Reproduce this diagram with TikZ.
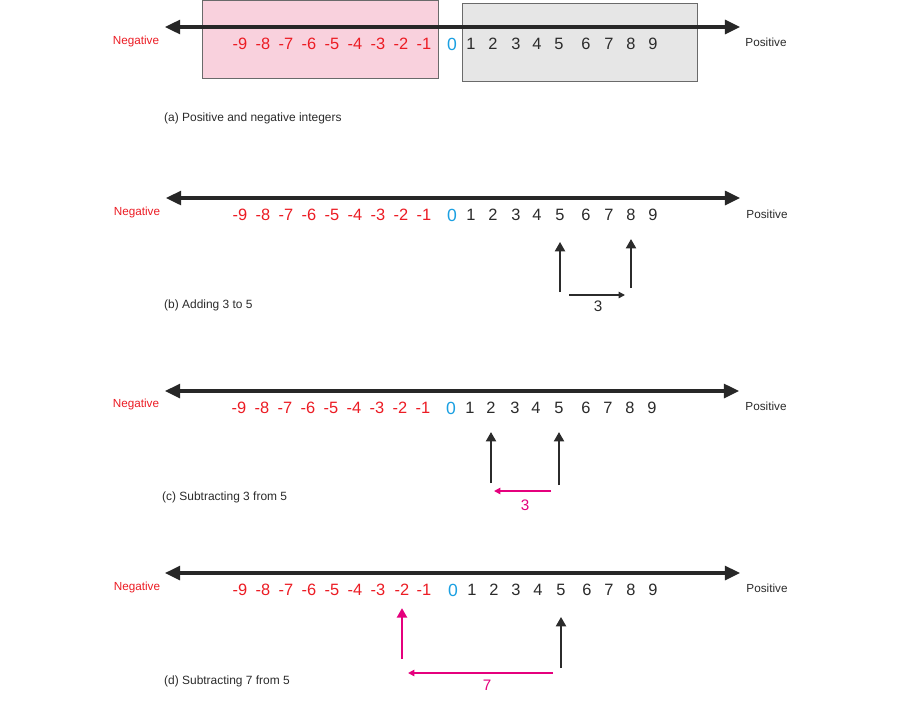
\documentclass[tikz,border=0pt]{standalone}
\usepackage{fontspec}
\setmainfont{Liberation Sans}
\usetikzlibrary{arrows.meta}
\definecolor{negRed}{HTML}{EC1C24}
\definecolor{zeroBlue}{HTML}{1BA0E2}
\definecolor{hopPink}{HTML}{E5007D}
\definecolor{digitGray}{HTML}{2B2B2B}
\definecolor{boxPink}{HTML}{F9D1DD}
\definecolor{boxGray}{HTML}{E6E6E6}
\definecolor{edgeGray}{HTML}{6A6A6A}

\begin{document}
\begin{tikzpicture}[
    x=0.03cm, y=-0.03cm,
    numaxis/.style={{Triangle[length=13pt,width=12pt]}-{Triangle[length=13pt,width=12pt]}, line width=2.6pt, color=digitGray!90!black},
    negnum/.style={inner sep=0pt, text=negRed, font=\fontsize{14}{16}\selectfont},
    posnum/.style={inner sep=0pt, text=digitGray, font=\fontsize{14}{16}\selectfont},
    zeronum/.style={inner sep=0pt, text=zeroBlue, font=\fontsize{15}{17}\selectfont},
    sideneg/.style={inner sep=0pt, text=negRed, font=\fontsize{10}{12}\selectfont},
    sidepos/.style={inner sep=0pt, text=digitGray, font=\fontsize{10}{12}\selectfont},
    caption/.style={inner sep=0pt, anchor=west, text=digitGray, font=\fontsize{10.2}{12}\selectfont},
    count/.style={inner sep=0pt, font=\fontsize{13}{15}\selectfont},
    jump/.style={-{Triangle[length=8pt,width=8.5pt]}, line width=1.8pt},
    hop/.style={-{Triangle[length=5.5pt,width=5.5pt]}, line width=1.2pt},
]
\useasboundingbox[fill=white] (0,0) rectangle (900,700);

% (a) Positive and negative integers
\draw[edgeGray, fill=boxPink, line width=0.8pt] (202,0) rectangle (438,78);
\draw[edgeGray, fill=boxGray, line width=0.8pt] (462,3) rectangle (697,81);
\coordinate (aleft) at (165,27);
\coordinate (aright) at (740,27);
\draw[numaxis] (aleft) -- (aright);
\foreach \n/\x in {9/240,8/263,7/286,6/309,5/332,4/355,3/378,2/401,1/424}
    \node[negnum] (an\n) at (\x,44) {-\n};
\node[zeronum] (a0) at (452,44) {0};
\foreach \n/\x in {1/471,2/493,3/516,4/537,5/559,6/586,7/609,8/631,9/653}
    \node[posnum] (ap\n) at (\x,44) {\n};
\node[sideneg] (aneg) at (136,41) {Negative};
\node[sidepos] (apos) at (766,42) {Positive};
\node[caption] (acap) at (164,118) {(a) Positive and negative integers};

% (b) Adding 3 to 5
\coordinate (bleft) at (166,198);
\coordinate (bright) at (740,198);
\draw[numaxis] (bleft) -- (bright);
\foreach \n/\x in {9/240,8/263,7/286,6/309,5/332,4/355,3/378,2/401,1/424}
    \node[negnum] (bn\n) at (\x,215) {-\n};
\node[zeronum] (b0) at (452,215) {0};
\foreach \n/\x in {1/471,2/493,3/516,4/537,5/560,6/586,7/609,8/631,9/653}
    \node[posnum] (bp\n) at (\x,215) {\n};
\node[sideneg] (bneg) at (137,212) {Negative};
\node[sidepos] (bpos) at (767,214) {Positive};
\node[caption] (bcap) at (164,305) {(b) Adding 3 to 5};
\coordinate (bfive) at (560,292);
\coordinate (beight) at (631,288);
\draw[jump, digitGray, shorten >=23pt] (bfive) -- (bp5.center);
\draw[jump, digitGray, shorten >=20.5pt] (beight) -- (bp8.center);
\coordinate (bfrom) at (569,295);
\coordinate (bto) at (625,295);
\draw[hop, digitGray] (bfrom) -- (bto);
\node[count, text=digitGray] (bcount) at (598,306) {3};

% (c) Subtracting 3 from 5
\coordinate (cleft) at (165,391);
\coordinate (cright) at (739,391);
\draw[numaxis] (cleft) -- (cright);
\foreach \n/\x in {9/239,8/262,7/285,6/308,5/331,4/354,3/377,2/400,1/423}
    \node[negnum] (cn\n) at (\x,408) {-\n};
\node[zeronum] (c0) at (451,408) {0};
\foreach \n/\x in {1/470,2/491,3/515,4/536,5/559,6/586,7/608,8/630,9/652}
    \node[posnum] (cp\n) at (\x,408) {\n};
\node[sideneg] (cneg) at (136,404) {Negative};
\node[sidepos] (cpos) at (766,406) {Positive};
\node[caption] (ccap) at (162,497) {(c) Subtracting 3 from 5};
\coordinate (ctwo) at (491,483);
\coordinate (cfive) at (559,485);
\draw[jump, digitGray, shorten >=20.5pt] (ctwo) -- (cp2.center);
\draw[jump, digitGray, shorten >=20.5pt] (cfive) -- (cp5.center);
\coordinate (cfrom) at (551,491);
\coordinate (cto) at (494,491);
\draw[hop, hopPink] (cfrom) -- (cto);
\node[count, text=hopPink] (ccount) at (525,505) {3};

% (d) Subtracting 7 from 5
\coordinate (dleft) at (165,573);
\coordinate (dright) at (740,573);
\draw[numaxis] (dleft) -- (dright);
\foreach \n/\x in {9/240,8/263,7/286,6/309,5/332,4/355,3/378,2/402,1/424}
    \node[negnum] (dn\n) at (\x,590) {-\n};
\node[zeronum] (d0) at (453,590) {0};
\foreach \n/\x in {1/472,2/494,3/516,4/538,5/561,6/587,7/609,8/631,9/653}
    \node[posnum] (dp\n) at (\x,590) {\n};
\node[sideneg] (dneg) at (137,587) {Negative};
\node[sidepos] (dpos) at (767,588) {Positive};
\node[caption] (dcap) at (164,681) {(d) Subtracting 7 from 5};
\coordinate (dminustwo) at (402,659);
\coordinate (dfive) at (561,668);
\draw[jump, hopPink, shorten >=15.5pt] (dminustwo) -- (dn2.center);
\draw[jump, digitGray, shorten >=23pt] (dfive) -- (dp5.center);
\coordinate (dfrom) at (553,673);
\coordinate (dto) at (408,673);
\draw[hop, hopPink] (dfrom) -- (dto);
\node[count, text=hopPink] (dcount) at (487,685) {7};
\end{tikzpicture}
\end{document}
